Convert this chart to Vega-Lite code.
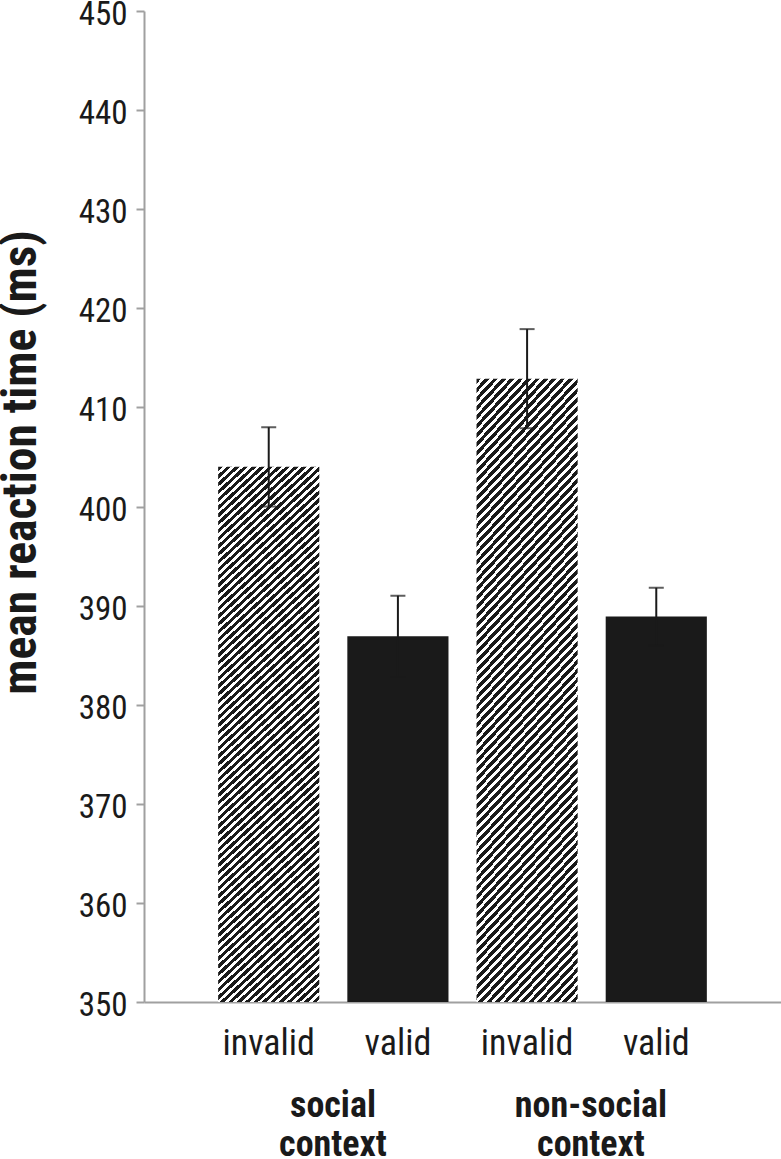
{
  "$schema": "https://vega.github.io/schema/vega-lite/v6.json",
  "width": 637,
  "height": 991,
  "autosize": {"type": "none"},
  "padding": {"left": 144, "top": 11, "right": 0, "bottom": 157},
  "background": "white",
  "config": {
    "view": {"stroke": null},
    "font": "Roboto Condensed, Roboto, sans-serif",
    "axisY": {"grid": false, "domainColor": "#a0a0a0", "domainWidth": 2, "tickColor": "#a0a0a0", "tickWidth": 2, "tickSize": 8, "tickCount": 10, "labelFont": "Roboto Condensed, Roboto, sans-serif", "labelFontSize": 33, "labelColor": "#1a1a1a", "labelPadding": 9, "labelBaseline": "alphabetic", "labelOffset": 13.5, "labelFlush": false, "labelOverlap": false, "titleFont": "Roboto Condensed, Roboto, sans-serif", "titleFontSize": 47.5, "titleFontWeight": "bold", "titleColor": "#1a1a1a", "titleX": -109, "titleY": 451, "titleBaseline": "alphabetic", "titleAngle": -90, "titleAlign": "center"},
    "axisX": {"grid": false, "domainColor": "#a0a0a0", "domainWidth": 2, "ticks": false, "tickSize": 0, "labelFont": "Roboto Condensed, Roboto, sans-serif", "labelFontSize": 36, "labelColor": "#1a1a1a", "labelPadding": 24, "labelAngle": 0}
  },
  "layer": [
    {
      "data": {"values": [
        {"context": "social", "cue": "invalid", "key": "social|invalid", "rt": 404, "lo": 400, "hi": 408},
        {"context": "social", "cue": "valid", "key": "social|valid", "rt": 386.9, "lo": 382.8, "hi": 391},
        {"context": "non-social", "cue": "invalid", "key": "non-social|invalid", "rt": 412.9, "lo": 407.9, "hi": 417.9},
        {"context": "non-social", "cue": "valid", "key": "non-social|valid", "rt": 388.9, "lo": 386, "hi": 391.8}
      ]},
      "encoding": {
        "x": {"field": "key", "type": "nominal", "sort": null,
          "scale": {"type": "band", "domain": ["social|invalid", "social|valid", "non-social|invalid", "non-social|valid"], "paddingInner": 0.217, "paddingOuter": 0.574},
          "axis": {"title": null, "labelExpr": "split(datum.value, '|')[1]"}}
      },
      "layer": [
        {
          "transform": [{"filter": "datum.cue == 'valid'"}],
          "mark": {"type": "bar", "fill": "#1a1a1a"},
          "encoding": {"y": {"field": "rt", "type": "quantitative", "title": "mean reaction time (ms)", "scale": {"domain": [350, 450], "nice": false, "zero": false}}, "y2": {"datum": 350}}
        },
        {
          "transform": [{"filter": "datum.cue == 'invalid'"}],
          "mark": {"type": "bar", "fill": {"gradient": "linear", "x1": 0, "y1": 0, "x2": 0.2467, "y2": 1.4099, "stops": [
            {"offset":0,"color":"#1a1a1a"},
            {"offset":0.0055,"color":"#1a1a1a"},{"offset":0.0055,"color":"#fff"},{"offset":0.01,"color":"#fff"},{"offset":0.01,"color":"#1a1a1a"},
            {"offset":0.0155,"color":"#1a1a1a"},{"offset":0.0155,"color":"#fff"},{"offset":0.02,"color":"#fff"},{"offset":0.02,"color":"#1a1a1a"},
            {"offset":0.0255,"color":"#1a1a1a"},{"offset":0.0255,"color":"#fff"},{"offset":0.03,"color":"#fff"},{"offset":0.03,"color":"#1a1a1a"},
            {"offset":0.0355,"color":"#1a1a1a"},{"offset":0.0355,"color":"#fff"},{"offset":0.04,"color":"#fff"},{"offset":0.04,"color":"#1a1a1a"},
            {"offset":0.0455,"color":"#1a1a1a"},{"offset":0.0455,"color":"#fff"},{"offset":0.05,"color":"#fff"},{"offset":0.05,"color":"#1a1a1a"},
            {"offset":0.0555,"color":"#1a1a1a"},{"offset":0.0555,"color":"#fff"},{"offset":0.06,"color":"#fff"},{"offset":0.06,"color":"#1a1a1a"},
            {"offset":0.0655,"color":"#1a1a1a"},{"offset":0.0655,"color":"#fff"},{"offset":0.07,"color":"#fff"},{"offset":0.07,"color":"#1a1a1a"},
            {"offset":0.0755,"color":"#1a1a1a"},{"offset":0.0755,"color":"#fff"},{"offset":0.08,"color":"#fff"},{"offset":0.08,"color":"#1a1a1a"},
            {"offset":0.0855,"color":"#1a1a1a"},{"offset":0.0855,"color":"#fff"},{"offset":0.09,"color":"#fff"},{"offset":0.09,"color":"#1a1a1a"},
            {"offset":0.0955,"color":"#1a1a1a"},{"offset":0.0955,"color":"#fff"},{"offset":0.1,"color":"#fff"},{"offset":0.1,"color":"#1a1a1a"},
            {"offset":0.1055,"color":"#1a1a1a"},{"offset":0.1055,"color":"#fff"},{"offset":0.11,"color":"#fff"},{"offset":0.11,"color":"#1a1a1a"},
            {"offset":0.1155,"color":"#1a1a1a"},{"offset":0.1155,"color":"#fff"},{"offset":0.12,"color":"#fff"},{"offset":0.12,"color":"#1a1a1a"},
            {"offset":0.1255,"color":"#1a1a1a"},{"offset":0.1255,"color":"#fff"},{"offset":0.13,"color":"#fff"},{"offset":0.13,"color":"#1a1a1a"},
            {"offset":0.1355,"color":"#1a1a1a"},{"offset":0.1355,"color":"#fff"},{"offset":0.14,"color":"#fff"},{"offset":0.14,"color":"#1a1a1a"},
            {"offset":0.1455,"color":"#1a1a1a"},{"offset":0.1455,"color":"#fff"},{"offset":0.15,"color":"#fff"},{"offset":0.15,"color":"#1a1a1a"},
            {"offset":0.1555,"color":"#1a1a1a"},{"offset":0.1555,"color":"#fff"},{"offset":0.16,"color":"#fff"},{"offset":0.16,"color":"#1a1a1a"},
            {"offset":0.1655,"color":"#1a1a1a"},{"offset":0.1655,"color":"#fff"},{"offset":0.17,"color":"#fff"},{"offset":0.17,"color":"#1a1a1a"},
            {"offset":0.1755,"color":"#1a1a1a"},{"offset":0.1755,"color":"#fff"},{"offset":0.18,"color":"#fff"},{"offset":0.18,"color":"#1a1a1a"},
            {"offset":0.1855,"color":"#1a1a1a"},{"offset":0.1855,"color":"#fff"},{"offset":0.19,"color":"#fff"},{"offset":0.19,"color":"#1a1a1a"},
            {"offset":0.1955,"color":"#1a1a1a"},{"offset":0.1955,"color":"#fff"},{"offset":0.2,"color":"#fff"},{"offset":0.2,"color":"#1a1a1a"},
            {"offset":0.2055,"color":"#1a1a1a"},{"offset":0.2055,"color":"#fff"},{"offset":0.21,"color":"#fff"},{"offset":0.21,"color":"#1a1a1a"},
            {"offset":0.2155,"color":"#1a1a1a"},{"offset":0.2155,"color":"#fff"},{"offset":0.22,"color":"#fff"},{"offset":0.22,"color":"#1a1a1a"},
            {"offset":0.2255,"color":"#1a1a1a"},{"offset":0.2255,"color":"#fff"},{"offset":0.23,"color":"#fff"},{"offset":0.23,"color":"#1a1a1a"},
            {"offset":0.2355,"color":"#1a1a1a"},{"offset":0.2355,"color":"#fff"},{"offset":0.24,"color":"#fff"},{"offset":0.24,"color":"#1a1a1a"},
            {"offset":0.2455,"color":"#1a1a1a"},{"offset":0.2455,"color":"#fff"},{"offset":0.25,"color":"#fff"},{"offset":0.25,"color":"#1a1a1a"},
            {"offset":0.2555,"color":"#1a1a1a"},{"offset":0.2555,"color":"#fff"},{"offset":0.26,"color":"#fff"},{"offset":0.26,"color":"#1a1a1a"},
            {"offset":0.2655,"color":"#1a1a1a"},{"offset":0.2655,"color":"#fff"},{"offset":0.27,"color":"#fff"},{"offset":0.27,"color":"#1a1a1a"},
            {"offset":0.2755,"color":"#1a1a1a"},{"offset":0.2755,"color":"#fff"},{"offset":0.28,"color":"#fff"},{"offset":0.28,"color":"#1a1a1a"},
            {"offset":0.2855,"color":"#1a1a1a"},{"offset":0.2855,"color":"#fff"},{"offset":0.29,"color":"#fff"},{"offset":0.29,"color":"#1a1a1a"},
            {"offset":0.2955,"color":"#1a1a1a"},{"offset":0.2955,"color":"#fff"},{"offset":0.3,"color":"#fff"},{"offset":0.3,"color":"#1a1a1a"},
            {"offset":0.3055,"color":"#1a1a1a"},{"offset":0.3055,"color":"#fff"},{"offset":0.31,"color":"#fff"},{"offset":0.31,"color":"#1a1a1a"},
            {"offset":0.3155,"color":"#1a1a1a"},{"offset":0.3155,"color":"#fff"},{"offset":0.32,"color":"#fff"},{"offset":0.32,"color":"#1a1a1a"},
            {"offset":0.3255,"color":"#1a1a1a"},{"offset":0.3255,"color":"#fff"},{"offset":0.33,"color":"#fff"},{"offset":0.33,"color":"#1a1a1a"},
            {"offset":0.3355,"color":"#1a1a1a"},{"offset":0.3355,"color":"#fff"},{"offset":0.34,"color":"#fff"},{"offset":0.34,"color":"#1a1a1a"},
            {"offset":0.3455,"color":"#1a1a1a"},{"offset":0.3455,"color":"#fff"},{"offset":0.35,"color":"#fff"},{"offset":0.35,"color":"#1a1a1a"},
            {"offset":0.3555,"color":"#1a1a1a"},{"offset":0.3555,"color":"#fff"},{"offset":0.36,"color":"#fff"},{"offset":0.36,"color":"#1a1a1a"},
            {"offset":0.3655,"color":"#1a1a1a"},{"offset":0.3655,"color":"#fff"},{"offset":0.37,"color":"#fff"},{"offset":0.37,"color":"#1a1a1a"},
            {"offset":0.3755,"color":"#1a1a1a"},{"offset":0.3755,"color":"#fff"},{"offset":0.38,"color":"#fff"},{"offset":0.38,"color":"#1a1a1a"},
            {"offset":0.3855,"color":"#1a1a1a"},{"offset":0.3855,"color":"#fff"},{"offset":0.39,"color":"#fff"},{"offset":0.39,"color":"#1a1a1a"},
            {"offset":0.3955,"color":"#1a1a1a"},{"offset":0.3955,"color":"#fff"},{"offset":0.4,"color":"#fff"},{"offset":0.4,"color":"#1a1a1a"},
            {"offset":0.4055,"color":"#1a1a1a"},{"offset":0.4055,"color":"#fff"},{"offset":0.41,"color":"#fff"},{"offset":0.41,"color":"#1a1a1a"},
            {"offset":0.4155,"color":"#1a1a1a"},{"offset":0.4155,"color":"#fff"},{"offset":0.42,"color":"#fff"},{"offset":0.42,"color":"#1a1a1a"},
            {"offset":0.4255,"color":"#1a1a1a"},{"offset":0.4255,"color":"#fff"},{"offset":0.43,"color":"#fff"},{"offset":0.43,"color":"#1a1a1a"},
            {"offset":0.4355,"color":"#1a1a1a"},{"offset":0.4355,"color":"#fff"},{"offset":0.44,"color":"#fff"},{"offset":0.44,"color":"#1a1a1a"},
            {"offset":0.4455,"color":"#1a1a1a"},{"offset":0.4455,"color":"#fff"},{"offset":0.45,"color":"#fff"},{"offset":0.45,"color":"#1a1a1a"},
            {"offset":0.4555,"color":"#1a1a1a"},{"offset":0.4555,"color":"#fff"},{"offset":0.46,"color":"#fff"},{"offset":0.46,"color":"#1a1a1a"},
            {"offset":0.4655,"color":"#1a1a1a"},{"offset":0.4655,"color":"#fff"},{"offset":0.47,"color":"#fff"},{"offset":0.47,"color":"#1a1a1a"},
            {"offset":0.4755,"color":"#1a1a1a"},{"offset":0.4755,"color":"#fff"},{"offset":0.48,"color":"#fff"},{"offset":0.48,"color":"#1a1a1a"},
            {"offset":0.4855,"color":"#1a1a1a"},{"offset":0.4855,"color":"#fff"},{"offset":0.49,"color":"#fff"},{"offset":0.49,"color":"#1a1a1a"},
            {"offset":0.4955,"color":"#1a1a1a"},{"offset":0.4955,"color":"#fff"},{"offset":0.5,"color":"#fff"},{"offset":0.5,"color":"#1a1a1a"},
            {"offset":0.5055,"color":"#1a1a1a"},{"offset":0.5055,"color":"#fff"},{"offset":0.51,"color":"#fff"},{"offset":0.51,"color":"#1a1a1a"},
            {"offset":0.5155,"color":"#1a1a1a"},{"offset":0.5155,"color":"#fff"},{"offset":0.52,"color":"#fff"},{"offset":0.52,"color":"#1a1a1a"},
            {"offset":0.5255,"color":"#1a1a1a"},{"offset":0.5255,"color":"#fff"},{"offset":0.53,"color":"#fff"},{"offset":0.53,"color":"#1a1a1a"},
            {"offset":0.5355,"color":"#1a1a1a"},{"offset":0.5355,"color":"#fff"},{"offset":0.54,"color":"#fff"},{"offset":0.54,"color":"#1a1a1a"},
            {"offset":0.5455,"color":"#1a1a1a"},{"offset":0.5455,"color":"#fff"},{"offset":0.55,"color":"#fff"},{"offset":0.55,"color":"#1a1a1a"},
            {"offset":0.5555,"color":"#1a1a1a"},{"offset":0.5555,"color":"#fff"},{"offset":0.56,"color":"#fff"},{"offset":0.56,"color":"#1a1a1a"},
            {"offset":0.5655,"color":"#1a1a1a"},{"offset":0.5655,"color":"#fff"},{"offset":0.57,"color":"#fff"},{"offset":0.57,"color":"#1a1a1a"},
            {"offset":0.5755,"color":"#1a1a1a"},{"offset":0.5755,"color":"#fff"},{"offset":0.58,"color":"#fff"},{"offset":0.58,"color":"#1a1a1a"},
            {"offset":0.5855,"color":"#1a1a1a"},{"offset":0.5855,"color":"#fff"},{"offset":0.59,"color":"#fff"},{"offset":0.59,"color":"#1a1a1a"},
            {"offset":0.5955,"color":"#1a1a1a"},{"offset":0.5955,"color":"#fff"},{"offset":0.6,"color":"#fff"},{"offset":0.6,"color":"#1a1a1a"},
            {"offset":0.6055,"color":"#1a1a1a"},{"offset":0.6055,"color":"#fff"},{"offset":0.61,"color":"#fff"},{"offset":0.61,"color":"#1a1a1a"},
            {"offset":0.6155,"color":"#1a1a1a"},{"offset":0.6155,"color":"#fff"},{"offset":0.62,"color":"#fff"},{"offset":0.62,"color":"#1a1a1a"},
            {"offset":0.6255,"color":"#1a1a1a"},{"offset":0.6255,"color":"#fff"},{"offset":0.63,"color":"#fff"},{"offset":0.63,"color":"#1a1a1a"},
            {"offset":0.6355,"color":"#1a1a1a"},{"offset":0.6355,"color":"#fff"},{"offset":0.64,"color":"#fff"},{"offset":0.64,"color":"#1a1a1a"},
            {"offset":0.6455,"color":"#1a1a1a"},{"offset":0.6455,"color":"#fff"},{"offset":0.65,"color":"#fff"},{"offset":0.65,"color":"#1a1a1a"},
            {"offset":0.6555,"color":"#1a1a1a"},{"offset":0.6555,"color":"#fff"},{"offset":0.66,"color":"#fff"},{"offset":0.66,"color":"#1a1a1a"},
            {"offset":0.6655,"color":"#1a1a1a"},{"offset":0.6655,"color":"#fff"},{"offset":0.67,"color":"#fff"},{"offset":0.67,"color":"#1a1a1a"},
            {"offset":0.6755,"color":"#1a1a1a"},{"offset":0.6755,"color":"#fff"},{"offset":0.68,"color":"#fff"},{"offset":0.68,"color":"#1a1a1a"},
            {"offset":0.6855,"color":"#1a1a1a"},{"offset":0.6855,"color":"#fff"},{"offset":0.69,"color":"#fff"},{"offset":0.69,"color":"#1a1a1a"},
            {"offset":0.6955,"color":"#1a1a1a"},{"offset":0.6955,"color":"#fff"},{"offset":0.7,"color":"#fff"},{"offset":0.7,"color":"#1a1a1a"},
            {"offset":0.7055,"color":"#1a1a1a"},{"offset":0.7055,"color":"#fff"},{"offset":0.71,"color":"#fff"},{"offset":0.71,"color":"#1a1a1a"},
            {"offset":0.7155,"color":"#1a1a1a"},{"offset":0.7155,"color":"#fff"},{"offset":0.72,"color":"#fff"},{"offset":0.72,"color":"#1a1a1a"},
            {"offset":0.7255,"color":"#1a1a1a"},{"offset":0.7255,"color":"#fff"},{"offset":0.73,"color":"#fff"},{"offset":0.73,"color":"#1a1a1a"},
            {"offset":0.7355,"color":"#1a1a1a"},{"offset":0.7355,"color":"#fff"},{"offset":0.74,"color":"#fff"},{"offset":0.74,"color":"#1a1a1a"},
            {"offset":0.7455,"color":"#1a1a1a"},{"offset":0.7455,"color":"#fff"},{"offset":0.75,"color":"#fff"},{"offset":0.75,"color":"#1a1a1a"},
            {"offset":0.7555,"color":"#1a1a1a"},{"offset":0.7555,"color":"#fff"},{"offset":0.76,"color":"#fff"},{"offset":0.76,"color":"#1a1a1a"},
            {"offset":0.7655,"color":"#1a1a1a"},{"offset":0.7655,"color":"#fff"},{"offset":0.77,"color":"#fff"},{"offset":0.77,"color":"#1a1a1a"},
            {"offset":0.7755,"color":"#1a1a1a"},{"offset":0.7755,"color":"#fff"},{"offset":0.78,"color":"#fff"},{"offset":0.78,"color":"#1a1a1a"},
            {"offset":0.7855,"color":"#1a1a1a"},{"offset":0.7855,"color":"#fff"},{"offset":0.79,"color":"#fff"},{"offset":0.79,"color":"#1a1a1a"},
            {"offset":0.7955,"color":"#1a1a1a"},{"offset":0.7955,"color":"#fff"},{"offset":0.8,"color":"#fff"},{"offset":0.8,"color":"#1a1a1a"},
            {"offset":0.8055,"color":"#1a1a1a"},{"offset":0.8055,"color":"#fff"},{"offset":0.81,"color":"#fff"},{"offset":0.81,"color":"#1a1a1a"},
            {"offset":0.8155,"color":"#1a1a1a"},{"offset":0.8155,"color":"#fff"},{"offset":0.82,"color":"#fff"},{"offset":0.82,"color":"#1a1a1a"},
            {"offset":0.8255,"color":"#1a1a1a"},{"offset":0.8255,"color":"#fff"},{"offset":0.83,"color":"#fff"},{"offset":0.83,"color":"#1a1a1a"},
            {"offset":0.8355,"color":"#1a1a1a"},{"offset":0.8355,"color":"#fff"},{"offset":0.84,"color":"#fff"},{"offset":0.84,"color":"#1a1a1a"},
            {"offset":0.8455,"color":"#1a1a1a"},{"offset":0.8455,"color":"#fff"},{"offset":0.85,"color":"#fff"},{"offset":0.85,"color":"#1a1a1a"},
            {"offset":0.8555,"color":"#1a1a1a"},{"offset":0.8555,"color":"#fff"},{"offset":0.86,"color":"#fff"},{"offset":0.86,"color":"#1a1a1a"},
            {"offset":0.8655,"color":"#1a1a1a"},{"offset":0.8655,"color":"#fff"},{"offset":0.87,"color":"#fff"},{"offset":0.87,"color":"#1a1a1a"},
            {"offset":0.8755,"color":"#1a1a1a"},{"offset":0.8755,"color":"#fff"},{"offset":0.88,"color":"#fff"},{"offset":0.88,"color":"#1a1a1a"},
            {"offset":0.8855,"color":"#1a1a1a"},{"offset":0.8855,"color":"#fff"},{"offset":0.89,"color":"#fff"},{"offset":0.89,"color":"#1a1a1a"},
            {"offset":0.8955,"color":"#1a1a1a"},{"offset":0.8955,"color":"#fff"},{"offset":0.9,"color":"#fff"}
          ]}},
          "encoding": {"y": {"field": "rt", "type": "quantitative", "title": "mean reaction time (ms)"}, "y2": {"datum": 350}}
        },
        {
          "mark": {"type": "rule", "strokeWidth": 2, "color": "#1a1a1a"},
          "encoding": {"y": {"field": "lo", "type": "quantitative", "title": "mean reaction time (ms)"}, "y2": {"field": "hi"}}
        },
        {
          "mark": {"type": "tick", "size": 15, "thickness": 2, "color": "#1a1a1a", "orient": "horizontal"},
          "encoding": {"y": {"field": "hi", "type": "quantitative", "title": "mean reaction time (ms)"}}
        },
        {
          "mark": {"type": "tick", "size": 15, "thickness": 2, "color": "#1a1a1a", "orient": "horizontal"},
          "encoding": {"y": {"field": "lo", "type": "quantitative", "title": "mean reaction time (ms)"}}
        }
      ]
    },
    {
      "data": {"values": [
        {"label": "social\ncontext", "pos": 1},
        {"label": "non-social\ncontext", "pos": 3}
      ]},
      "mark": {"type": "text", "font": "Roboto Condensed, Roboto, sans-serif", "lineBreak": "\n", "fontSize": 36, "fontWeight": "bold", "baseline": "top", "align": "center", "dy": 87, "lineHeight": 39, "color": "#1a1a1a"},
      "encoding": {
        "x": {"field": "pos", "type": "quantitative", "scale": {"domain": [-0.465, 4.473], "nice": false, "zero": false}, "axis": null},
        "y": {"datum": 350, "type": "quantitative"},
        "text": {"field": "label"}
      }
    }
  ],
  "resolve": {"scale": {"x": "independent"}}
}
